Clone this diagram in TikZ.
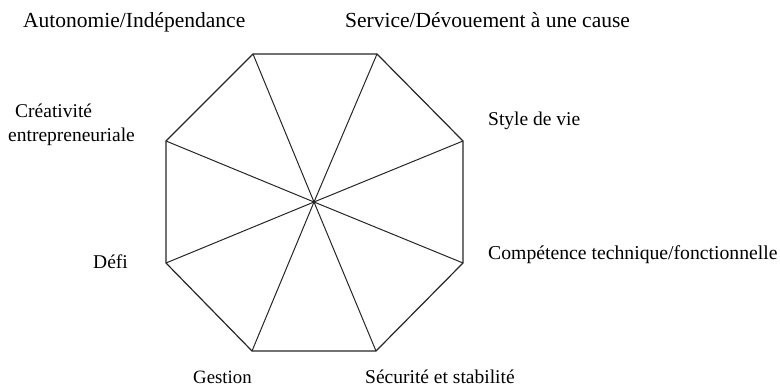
\documentclass[tikz,border=0pt]{standalone}
\usepackage{fontspec}
\setmainfont{Liberation Serif}
\usetikzlibrary{positioning}

\begin{document}
\begin{tikzpicture}[
  x=1pt, y=-1pt,
  anchorLabel/.style={anchor=base west, inner sep=0pt,
                      font=\fontsize{19.5}{23}\selectfont},
  bigLabel/.style={anchorLabel, font=\fontsize{21.5}{25}\selectfont},
  edgeLine/.style={draw=black!85, line width=1.2pt},
  spokeLine/.style={draw=black!85, line width=1pt}
]
  \useasboundingbox (0,0) rectangle (780,391);
  % octagon corners
  \coordinate (v1) at (253,54);
  \coordinate (v2) at (377,54);
  \coordinate (v3) at (463,141);
  \coordinate (v4) at (463,263);
  \coordinate (v5) at (376,351);
  \coordinate (v6) at (252,351);
  \coordinate (v7) at (166,263);
  \coordinate (v8) at (166,141);
  \coordinate (ctr) at (314,202);
  \draw[edgeLine] (v1) -- (v2) -- (v3) -- (v4) -- (v5) -- (v6) -- (v7) -- (v8) -- cycle;
  \foreach \i in {1,...,8}
    \draw[spokeLine] (ctr) -- (v\i);
  % labels
  \node[bigLabel] (auto) at (23,27) {Autonomie/Indépendance};
  \node[bigLabel] (serv) at (345,27) {Service/Dévouement à une cause};
  \node[anchorLabel] (crea) at (15,117) {Créativité};
  \node[anchorLabel] (entr) at (8,141) {entrepreneuriale};
  \node[anchorLabel] (style) at (488,125) {Style de vie};
  \node[anchorLabel, font=\fontsize{19.7}{23}\selectfont] (comp) at (488,259) {Compétence technique/fonctionnelle};
  \node[anchorLabel] (defi) at (93,268) {Défi};
  \node[anchorLabel, font=\fontsize{18.8}{22}\selectfont] (gest) at (193,383) {Gestion};
  \node[anchorLabel] (secu) at (365,383) {Sécurité et stabilité};
\end{tikzpicture}
\end{document}
